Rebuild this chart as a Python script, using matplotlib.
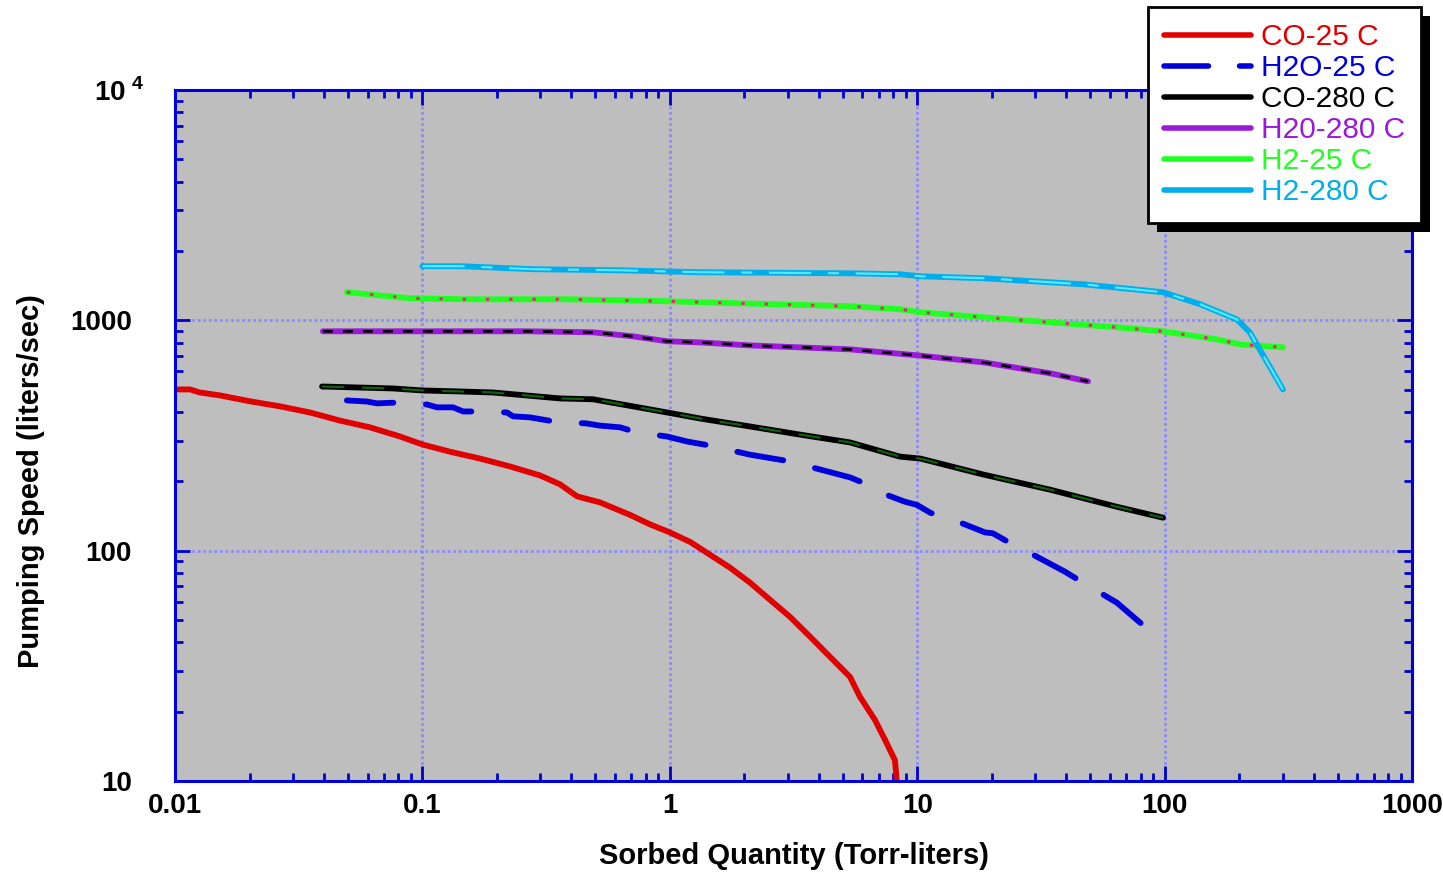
import matplotlib.pyplot as plt
from matplotlib.patches import Rectangle
from matplotlib.transforms import ScaledTranslation
from matplotlib.ticker import FixedLocator, LogLocator, NullFormatter

plt.rcParams['font.family'] = ['Liberation Sans', 'DejaVu Sans']
plt.rcParams['mathtext.fontset'] = 'custom'
plt.rcParams['mathtext.rm'] = 'Liberation Sans:bold'
plt.rcParams['mathtext.bf'] = 'Liberation Sans:bold'

# CO at 25 C
co25_x = [0.01, 0.0115, 0.0126, 0.0152, 0.0201, 0.0266, 0.0351, 0.0464, 0.0614, 0.0812,
          0.1, 0.129, 0.171, 0.226, 0.299, 0.36, 0.422, 0.522, 0.69, 0.832, 1.0, 1.21,
          1.45, 1.75, 2.11, 2.54, 3.06, 3.69, 4.44, 5.35, 5.87, 6.75, 7.41, 8.13, 8.3]
co25_y = [501, 501, 486, 472, 445, 423, 398, 367, 343, 313, 289, 269, 251, 232, 212, 194,
          172, 162, 143, 130, 120, 109, 96.1, 84.4, 72.6, 61.2, 51.6, 42.3, 34.6, 28.3,
          23.2, 18.4, 15.1, 12.3, 9.5]

# H2O at 25 C
h2o25_x = [0.0495, 0.0597, 0.0655, 0.0812, 0.1044, 0.1146, 0.133, 0.146, 0.171, 0.22,
           0.232, 0.272, 0.36, 0.458, 0.522, 0.63, 0.736, 0.975, 1.17, 1.45, 2.11, 3.06,
           4.05, 5.35, 6.27, 6.88, 8.93, 9.98, 11.3, 14.5, 18.8, 20.2, 23.7, 29.9, 39.5,
           46.8, 64.2, 83.3, 100]
h2o25_y = [449, 444, 436, 440, 431, 419, 419, 402, 402, 398, 383, 379, 360, 357, 349,
           343, 326, 313, 298, 286, 261, 244, 225, 208, 194, 181, 163, 158, 146, 134,
           120, 119, 108, 95.1, 81.1, 72.6, 59.4, 46.7, 39.8]

# CO at 280 C
co280_x = [0.0393, 0.076, 0.1, 0.142, 0.193, 0.36, 0.49, 0.71, 0.975, 1.32, 2.11, 3.36,
           5.35, 8.51, 10.3, 18.5, 34.4, 64.2, 98.6]
co280_y = [516, 506, 496, 491, 486, 458, 454, 423, 398, 375, 346, 319, 295, 256, 251,
           214, 184, 155, 139]

# H2O at 280 C
h2o280_x = [0.0396, 0.0977, 0.265, 0.49, 0.71, 0.975, 1.32, 2.11, 3.36, 5.35, 9.98,
            18.5, 34.4, 49.0]
h2o280_y = [896, 896, 896, 887, 852, 811, 802, 778, 763, 748, 705, 657, 589, 543]

# H2 at 25 C
h225_x = [0.0495, 0.0891, 0.151, 0.384, 0.975, 1.32, 5.35, 8.51, 10.3, 18.5, 34.4,
          64.2, 98.6, 163, 202, 301]
h225_y = [1324, 1247, 1234, 1234, 1210, 1198, 1151, 1117, 1084, 1031, 980, 933, 896,
          826, 786, 763]

# H2 at 280 C
h2280_x = [0.1, 0.142, 0.28, 0.63, 1.32, 5.35, 8.51, 10.3, 18.5, 46.8, 98.6, 139, 196,
           221, 301]
h2280_y = [1718, 1718, 1667, 1649, 1617, 1600, 1585, 1553, 1523, 1434, 1324, 1175,
           1009, 887, 501]

fig = plt.figure(figsize=(14.43, 8.72), dpi=100)
ax = fig.add_axes([0.1213, 0.1044, 0.8572, 0.7924])
ax.set_facecolor('#bebebe')

lw = 4.2
ax.plot(co25_x, co25_y, color='#e00000', lw=lw, label='CO-25 C', solid_capstyle='round')
ax.plot(h2o25_x, h2o25_y, color='#0000dd', lw=lw, label='H2O-25 C',
        dashes=(8.0, 5.6), dash_capstyle='round')
ax.plot(co280_x, co280_y, color='black', lw=lw, label='CO-280 C', solid_capstyle='round')
ax.plot(h2o280_x, h2o280_y, color='#9b19d9', lw=lw, label='H20-280 C', solid_capstyle='round')
ax.plot(h225_x, h225_y, color='#22ff22', lw=lw, label='H2-25 C', solid_capstyle='round')
ax.plot(h2280_x, h2280_y, color='#00aeec', lw=lw, label='H2-280 C', solid_capstyle='round')

# thin overlays drawn on top of the thick curves
ax.plot(co280_x, co280_y, color='#106010', lw=1.6, dashes=(10, 8), label='_nolegend_')
ax.plot(h2o280_x, h2o280_y, color='black', lw=2.0, dashes=(3.6, 3.6), label='_nolegend_')
ax.plot(h225_x, h225_y, color='#f0207a', lw=2.2, dashes=(1.1, 6.5), label='_nolegend_')
ax.plot(h2280_x, h2280_y, color='#55e8ff', lw=1.6, dashes=(19, 7.5, 5, 7.5), label='_nolegend_')

ax.set_xscale('log')
ax.set_yscale('log')
ax.set_xlim(0.01, 1000)
ax.set_ylim(10, 10000)

ax.xaxis.set_major_locator(FixedLocator([0.01, 0.1, 1, 10, 100, 1000]))
ax.set_xticklabels(['0.01', '0.1', '1', '10', '100', '1000'])
ax.yaxis.set_major_locator(FixedLocator([10, 100, 1000, 10000]))
ax.set_yticklabels(['10', '100', '1000', r'$10^{\ 4}$'])
for a in (ax.xaxis, ax.yaxis):
    a.set_minor_locator(LogLocator(base=10, subs=range(2, 10), numticks=20))
    a.set_minor_formatter(NullFormatter())

ax.tick_params(which='both', direction='in', colors='#0000cc', top=True, right=True,
               labelcolor='black', labelsize=20)
ax.tick_params(which='major', length=11, width=2)
ax.tick_params(which='minor', length=6, width=2)
ax.tick_params(axis='x', which='major', pad=9)
ax.tick_params(axis='y', which='major', pad=31)
for t in ax.get_xticklabels() + ax.get_yticklabels():
    t.set_fontweight('bold')

# the 10^4 label sticks out to the right of the other labels
top_lab = ax.get_yticklabels()[-1]
top_lab.set_transform(top_lab.get_transform() + ScaledTranslation(12 / 100, 0, fig.dpi_scale_trans))

for s in ax.spines.values():
    s.set_color('#0000dd')
    s.set_linewidth(2.2)

ax.grid(True, which='major', color='#8a8aff', linestyle=(0, (1, 1)), linewidth=2)

ax.set_xlabel('Sorbed Quantity (Torr-liters)', fontsize=21, fontweight='bold', labelpad=16)
ax.set_ylabel('Pumping Speed (liters/sec)', fontsize=21, fontweight='bold')
ax.yaxis.set_label_coords(-0.105, 0.434)

leg = fig.legend(loc='upper left', bbox_to_anchor=(0.7956, 0.992), fontsize=21.5,
                 frameon=True, fancybox=False, edgecolor='black', facecolor='white',
                 framealpha=1, handlelength=2.9, handletextpad=0.33, labelspacing=0.1,
                 borderpad=0.55, borderaxespad=0)
leg.get_frame().set_linewidth(2)
for txt, line in zip(leg.get_texts(), leg.get_lines()):
    txt.set_color(line.get_color())
    line.set_linewidth(4)

fig.canvas.draw()
bb = leg.get_window_extent().transformed(fig.transFigure.inverted())
W, H = fig.get_size_inches() * fig.dpi
shadow = Rectangle((bb.x0 + 9 / W, bb.y0 - 9 / H), bb.width, bb.height,
                   transform=fig.transFigure, facecolor='black', edgecolor='none',
                   zorder=leg.get_zorder() - 0.5)
fig.patches.append(shadow)

fig.savefig('out.png', dpi=100)
